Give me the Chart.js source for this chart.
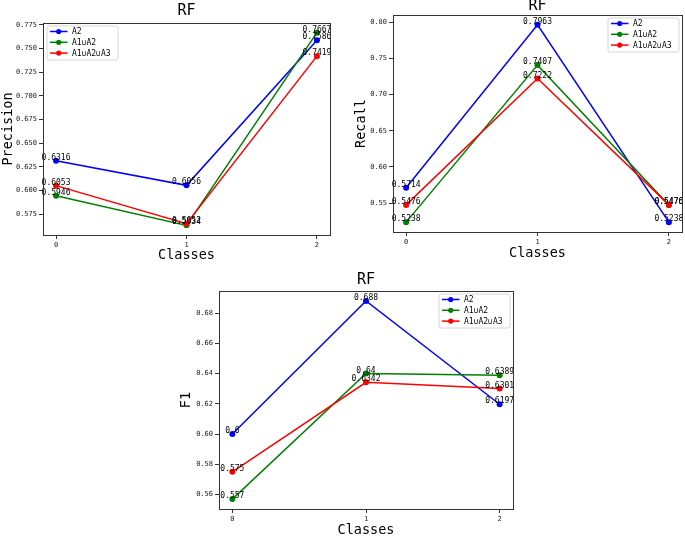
<!DOCTYPE html>
<html><head><meta charset="utf-8">
<script src="https://cdn.jsdelivr.net/npm/chart.js@4.4.1/dist/chart.umd.min.js"></script>
<style>
html,body{margin:0;padding:0;background:#fff;}
body{width:685px;height:537px;position:relative;overflow:hidden;}
.c{position:absolute;}
canvas{display:block;}
</style></head><body>
<div class="c" style="left:0px;top:0px;"><canvas id="c1"></canvas></div>
<div class="c" style="left:340px;top:0px;"><canvas id="c2"></canvas></div>
<div class="c" style="left:180px;top:262px;"><canvas id="c3"></canvas></div>
<script>
const classes = ['0', '1', '2'];
const seriesNames = ['A2', 'A1\u222AA2', 'A1\u222AA2\u222AA3'];
const seriesColors = ['#0000ff', '#008000', '#ff0000'];

const precisionA2 = [0.6316, 0.6056, 0.7586];
const precisionA1A2 = [0.5946, 0.5634, 0.7667];
const precisionA1A2A3 = [0.6053, 0.5652, 0.7419];

const recallA2 = [0.5714, 0.7963, 0.5238];
const recallA1A2 = [0.5238, 0.7407, 0.5476];
const recallA1A2A3 = [0.5476, 0.7222, 0.5476];

const f1A2 = [0.6, 0.688, 0.6197];
const f1A1A2 = [0.557, 0.64, 0.6389];
const f1A1A2A3 = [0.575, 0.6342, 0.6301];

const precisionTicks = [0.575, 0.6, 0.625, 0.65, 0.675, 0.7, 0.725, 0.75, 0.775];
const recallTicks = [0.55, 0.6, 0.65, 0.7, 0.75, 0.8];
const f1Ticks = [0.56, 0.58, 0.6, 0.62, 0.64, 0.66, 0.68];

const MONO = '"DejaVu Sans Mono", "Liberation Mono", monospace';

function decoPlugin(cfg) {
  return {
    id: 'deco',
    afterDatasetsDraw(chart) {
      const ctx = chart.ctx;
      ctx.save();
      ctx.font = '8px ' + MONO;
      ctx.fillStyle = '#000';
      ctx.textAlign = 'center';
      ctx.textBaseline = 'alphabetic';
      chart.data.datasets.forEach((ds, i) => {
        const meta = chart.getDatasetMeta(i);
        meta.data.forEach((el, j) => {
          ctx.fillText(String(cfg.series[i][j]), el.x, el.y - 1);
        });
      });
      ctx.restore();
    },
    afterDraw(chart) {
      const ctx = chart.ctx;
      const a = chart.chartArea;
      ctx.save();
      // frame
      ctx.strokeStyle = '#333';
      ctx.lineWidth = 1;
      ctx.strokeRect(Math.round(a.left) + 0.5, Math.round(a.top) + 0.5,
        Math.round(a.right) - Math.round(a.left), Math.round(a.bottom) - Math.round(a.top));
      const cx = (a.left + a.right) / 2, cy = (a.top + a.bottom) / 2;
      // title
      ctx.fillStyle = '#000';
      ctx.textAlign = 'center';
      ctx.textBaseline = 'middle';
      ctx.font = '15px ' + MONO;
      ctx.fillText('RF', cx, a.top - cfg.titleGap);
      // x title
      ctx.font = '13.5px ' + MONO;
      ctx.fillText('Classes', cx, a.bottom + cfg.xTitleGap);
      // y title
      ctx.save();
      ctx.translate(a.left - cfg.yTitleGap, cy);
      ctx.rotate(-Math.PI / 2);
      ctx.fillText(cfg.yTitle, 0, 0);
      ctx.restore();
      // legend
      const lw = 71, lh = 34;
      const lx = cfg.legendSide === 'left' ? a.left + 3.5 : a.right - 3.5 - lw;
      const ly = a.top + 2.5;
      ctx.beginPath();
      if (ctx.roundRect) ctx.roundRect(lx + 0.5, ly + 0.5, lw, lh, 2); else ctx.rect(lx + 0.5, ly + 0.5, lw, lh);
      ctx.fillStyle = 'rgba(255,255,255,0.85)';
      ctx.fill();
      ctx.strokeStyle = '#d6d6d6';
      ctx.stroke();
      ctx.font = '8px ' + MONO;
      ctx.textAlign = 'left';
      ctx.textBaseline = 'middle';
      seriesNames.forEach((name, i) => {
        const ry = ly + 6 + i * 10.8;
        ctx.strokeStyle = seriesColors[i];
        ctx.lineWidth = 1.5;
        ctx.beginPath();
        ctx.moveTo(lx + 3.5, ry);
        ctx.lineTo(lx + 21, ry);
        ctx.stroke();
        ctx.fillStyle = seriesColors[i];
        ctx.beginPath();
        ctx.arc(lx + 12.2, ry, 2.6, 0, Math.PI * 2);
        ctx.fill();
        ctx.fillStyle = '#000';
        ctx.fillText(name, lx + 25.5, ry + 0.5);
      });
      ctx.restore();
    }
  };
}

function buildChart(cfg) {
  const cv = document.getElementById(cfg.id);
  cv.width = cfg.W; cv.height = cfg.H;
  cv.style.width = cfg.W + 'px'; cv.style.height = cfg.H + 'px';
  const all = cfg.series.flat();
  const lo = Math.min(...all), hi = Math.max(...all), m = (hi - lo) * 0.05;
  const datasets = cfg.series.map((vals, i) => ({
    label: seriesNames[i],
    data: vals.map((v, j) => ({ x: j, y: v })),
    borderColor: seriesColors[i],
    backgroundColor: seriesColors[i],
    pointBackgroundColor: seriesColors[i],
    pointBorderColor: seriesColors[i],
    pointRadius: 3, pointHoverRadius: 3, pointBorderWidth: 0,
    borderWidth: 1.5, tension: 0, fill: false,
    order: 2 - i
  }));
  const tickFont = { family: MONO, size: 7 };
  new Chart(cv, {
    type: 'line',
    data: { datasets },
    options: {
      responsive: false, animation: false, devicePixelRatio: 1, events: [],
      layout: { padding: cfg.pad },
      plugins: { legend: { display: false }, title: { display: false }, tooltip: { enabled: false } },
      scales: {
        x: {
          type: 'linear', min: -0.1, max: 2.1,
          afterBuildTicks: s => { s.ticks = classes.map((c, j) => ({ value: j })); },
          afterFit: s => { s.height = cfg.xh; },
          ticks: { callback: v => classes[v], font: tickFont, color: '#222', padding: 2, maxRotation: 0, autoSkip: false },
          grid: { drawOnChartArea: false, drawTicks: true, tickLength: 4, color: '#333' },
          border: { display: false }
        },
        y: {
          type: 'linear', min: lo - m, max: hi + m,
          afterBuildTicks: s => { s.ticks = cfg.ticks.map(v => ({ value: v })); },
          afterFit: s => { s.width = cfg.yw; },
          ticks: { callback: v => Number(v).toFixed(cfg.dec), font: tickFont, color: '#222', padding: 2, autoSkip: false },
          grid: { drawOnChartArea: false, drawTicks: true, tickLength: 4, color: '#333' },
          border: { display: false }
        }
      }
    },
    plugins: [decoPlugin(cfg)]
  });
}

buildChart({
  id: 'c1', W: 340, H: 262, yw: 43, xh: 20,
  pad: { left: 0, top: 23, right: 10, bottom: 7 },
  series: [precisionA2, precisionA1A2, precisionA1A2A3],
  ticks: precisionTicks, dec: 3, yTitle: 'Precision',
  titleGap: 12, xTitleGap: 20, yTitleGap: 35, legendSide: 'left'
});
buildChart({
  id: 'c2', W: 345, H: 262, yw: 53, xh: 20,
  pad: { left: 0, top: 15, right: 2, bottom: 10 },
  series: [recallA2, recallA1A2, recallA1A2A3],
  ticks: recallTicks, dec: 2, yTitle: 'Recall',
  titleGap: 9, xTitleGap: 21.5, yTitleGap: 31.5, legendSide: 'right'
});
buildChart({
  id: 'c3', W: 350, H: 275, yw: 39, xh: 20,
  pad: { left: 0, top: 29, right: 17, bottom: 8 },
  series: [f1A2, f1A1A2, f1A1A2A3],
  ticks: f1Ticks, dec: 2, yTitle: 'F1',
  titleGap: 11, xTitleGap: 21, yTitleGap: 33, legendSide: 'right'
});
</script>
</body></html>
